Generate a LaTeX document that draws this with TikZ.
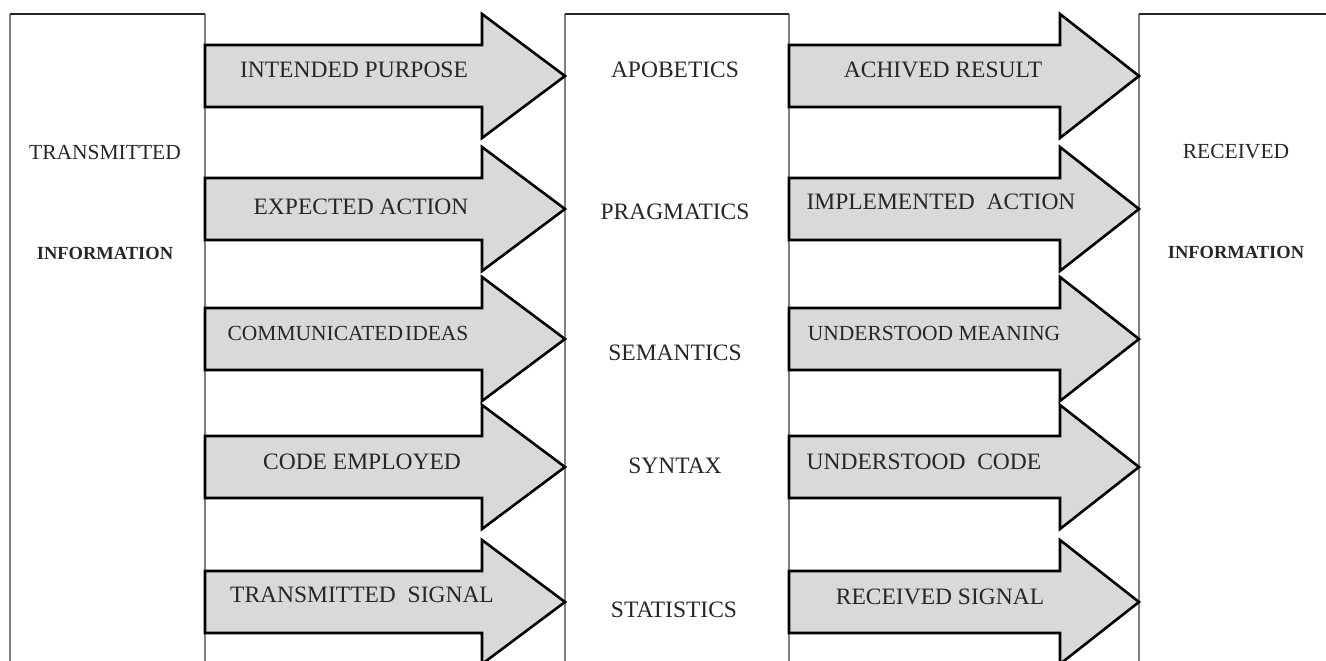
\documentclass[tikz,border=0pt]{standalone}
\usepackage{fontspec}
\setmainfont{Liberation Serif}
\usetikzlibrary{calc}
\definecolor{arrowgray}{HTML}{D9D9D9}
\definecolor{txtgray}{HTML}{262626}
\definecolor{sidegray}{HTML}{808080}

\begin{document}
\begin{tikzpicture}[x=1pt,y=-1pt,
    column/.style={inner sep=0pt,outer sep=0pt,minimum height=720pt,anchor=north west},
    side/.style={draw=sidegray,line width=2pt},
    roof/.style={draw=black!85,line width=2.2pt},
    fat/.style={draw=black,fill=arrowgray,line width=2.6pt,line join=miter},
    lbl/.style={text=txtgray,font=\fontsize{23.5}{24}\selectfont,inner sep=0pt},
    small/.style={lbl,font=\fontsize{21.5}{22}\selectfont},
    tiny/.style={lbl,font=\fontsize{18.5}{19}\selectfont\bfseries}
  ]
  \useasboundingbox (0,0) rectangle (1326,661);

  % the three columns
  \node[column,minimum width=195pt] (tx) at (10,14) {};
  \node[column,minimum width=224pt] (mid) at (565,14) {};
  \node[column,minimum width=260pt] (rx) at (1139,14) {};
  \draw[side] (tx.south west) -- (tx.north west) (tx.north east) -- (tx.south east);
  \draw[side] (mid.south west) -- (mid.north west) (mid.north east) -- (mid.south east);
  \draw[side] (rx.south west) -- (rx.north west);
  \draw[roof] (tx.north west) -- (tx.north east);
  \draw[roof] (mid.north west) -- (mid.north east);
  \draw[roof] (rx.north west) -- (rx.north east);

  % rows of block arrows
  \foreach \y/\n in {76/a,209/b,339/c,467/d,602/e}
    \coordinate (row\n) at (0,\y);
  \foreach \n in {a,b,c,d,e}{
    \draw[fat] (tx.east |- row\n) ++(0,-31) -| ($(mid.west |- row\n)+(-83,-62)$)
      -- (mid.west |- row\n) -- ($(mid.west |- row\n)+(-83,62)$)
      |- ($(tx.east |- row\n)+(0,31)$) -- cycle;
    \draw[fat] (mid.east |- row\n) ++(0,-31) -| ($(rx.west |- row\n)+(-79,-62)$)
      -- (rx.west |- row\n) -- ($(rx.west |- row\n)+(-79,62)$)
      |- ($(mid.east |- row\n)+(0,31)$) -- cycle;
  }

  \node[small] (trans) at (105,152) {TRANSMITTED};
  \node[tiny] (tinfo) at (105,253) {INFORMATION};
  \node[small] (recv) at (1236,152) {RECEIVED};
  \node[tiny] (rinfo) at (1236,252) {INFORMATION};

  \node[lbl] (ip) at (354,70) {INTENDED PURPOSE};
  \node[lbl] (ea) at (361,207) {EXPECTED ACTION};
  \node[small] (ci) at (348,333) {COMMUNICATED\hspace{2pt}IDEAS};
  \node[lbl] (ce) at (362,462) {CODE EMPLOYED};
  \node[lbl] (ts) at (362,595) {TRANSMITTED~~SIGNAL};

  \node[lbl] (apo) at (675,70) {APOBETICS};
  \node[lbl] (prag) at (675,212) {PRAGMATICS};
  \node[lbl] (sem) at (675,353) {SEMANTICS};
  \node[lbl] (syn) at (675,466) {SYNTAX};
  \node[lbl] (stat) at (674,610) {STATISTICS};

  \node[lbl] (ar) at (943,70) {ACHIVED RESULT};
  \node[lbl] (ia) at (941,202) {IMPLEMENTED~~ACTION};
  \node[small] (um) at (934,333) {UNDERSTOOD MEANING};
  \node[lbl] (uc) at (924,462) {UNDERSTOOD~~CODE};
  \node[lbl] (rs) at (940,597) {RECEIVED SIGNAL};
\end{tikzpicture}
\end{document}
